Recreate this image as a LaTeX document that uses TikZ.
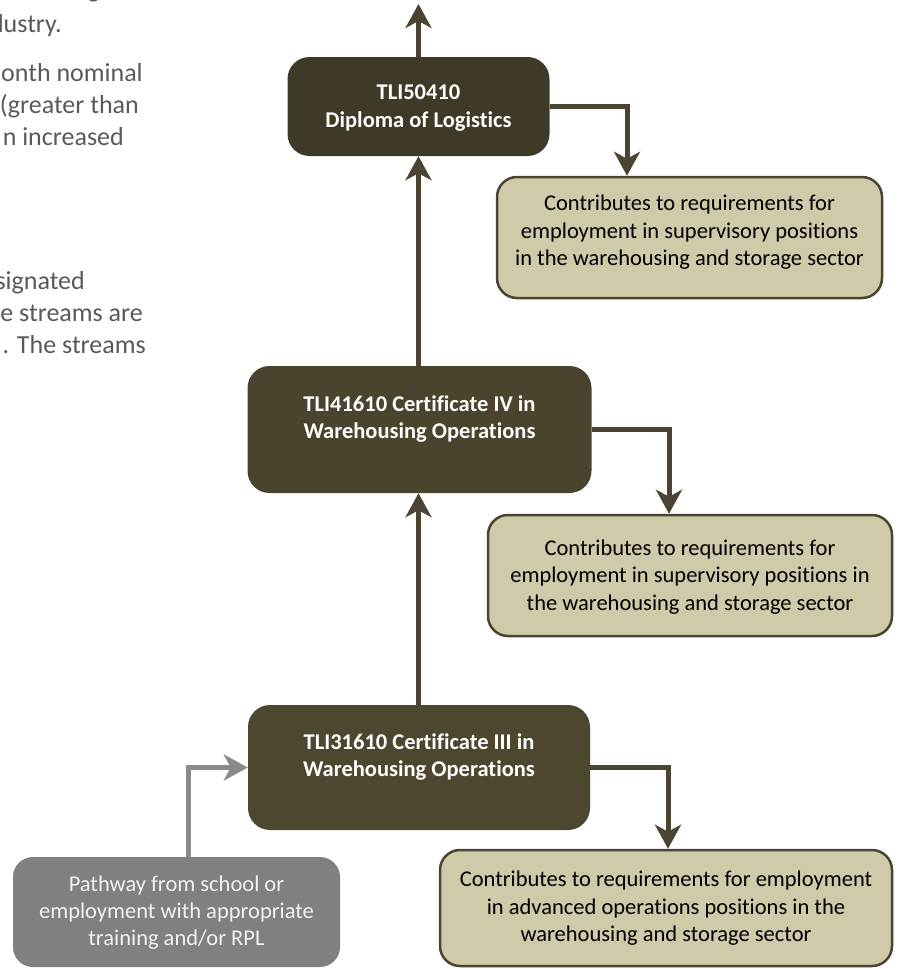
\documentclass[tikz,border=0pt]{standalone}
\usepackage{fontspec}
\setmainfont{Carlito}[Ligatures=NoCommon]
\usetikzlibrary{arrows.meta}
\definecolor{darkA}{HTML}{3F3A28}
\definecolor{darkB}{HTML}{4A442F}
\definecolor{darkC}{HTML}{4D4730}
\definecolor{lightbox}{HTML}{CFCAA9}
\definecolor{arrowc}{HTML}{4A4430}
\definecolor{greybox}{HTML}{808080}
\definecolor{greyarrow}{HTML}{8A8A8A}
\definecolor{sidetext}{HTML}{595959}
\tikzset{
  darkbox/.style={rounded corners=22pt, inner sep=0pt},
  lightnode/.style={draw=arrowc, fill=lightbox, line width=2.5pt, rounded corners=20pt, inner sep=0pt},
  greynode/.style={fill=greybox, rounded corners=20pt, inner sep=0pt},
  boldtext/.style={text=white, font=\fontsize{22.5}{27.5}\selectfont\bfseries, align=center, inner sep=0pt},
  lighttext/.style={text=black, font=\fontsize{22.5}{27.5}\selectfont, align=center, inner sep=0pt},
  greytext/.style={text=white!95!black, font=\fontsize{22.5}{27}\selectfont, align=center, inner sep=0pt},
  sidenote/.style={text=sidetext, font=\fontsize{26}{32}\selectfont, anchor=base east, inner sep=0pt},
  arr/.style={draw=arrowc, line width=5pt, -{Stealth[length=24pt, width=26pt, inset=7pt]}},
  garr/.style={draw=greyarrow, line width=5pt, -{Stealth[length=24pt, width=26pt, inset=7pt]}}
}
\begin{document}
\begin{tikzpicture}[x=1pt,y=-1pt]
\useasboundingbox (0,0) rectangle (902,969);
\clip (0,0) rectangle (902,969);

% side text fragments (cut off at the picture's edges, as in the reference)
\node[sidenote] (s0) at (100,-2) {g};
\node[sidenote] (s1) at (62,32) {dustry.};
\node[sidenote] (s2) at (143,81) {onth nominal};
\node[sidenote] (s3) at (139,113) {(greater than};
\node[sidenote] (s4) at (124,145) {n increased};
\node[sidenote] (s5) at (85,289) {signated};
\node[sidenote] (s6) at (143,321) {e streams are};
\node[sidenote] (s7) at (146,353) {. The streams};

% dark boxes
\node[darkbox, fill=darkA, minimum width=262pt, minimum height=99pt] (b1) at (418.5,106.5) {};
\node[darkbox, fill=darkB, minimum width=344pt, minimum height=127pt] (b2) at (419.5,429.5) {};
\node[darkbox, fill=darkC, minimum width=342pt, minimum height=125pt] (b3) at (419,767.5) {};

\node[boldtext] (t1) at (418.5,108) {TLI50410\\Diploma of Logistics};
\node[boldtext] (t2) at (419.5,419) {TLI41610 Certificate IV in\\Warehousing Operations};
\node[boldtext] (t3) at (419,757) {TLI31610 Certificate III in\\Warehousing Operations};

% light boxes
\node[lightnode, minimum width=385pt, minimum height=121pt] (a1) at (689.5,237.5) {};
\node[lightnode, minimum width=404pt, minimum height=121pt] (a2) at (690,575.5) {};
\node[lightnode, minimum width=452pt, minimum height=116pt] (a3) at (666,908) {};

\node[lighttext] (u1) at (689.5,232.5) {Contributes to requirements for\\employment in supervisory positions\\in the warehousing and storage sector};
\node[lighttext] (u2) at (690,577) {Contributes to requirements for\\employment in supervisory positions in\\the warehousing and storage sector};
\node[lighttext] (u3) at (666,908.5) {Contributes to requirements for employment\\in advanced operations positions in the\\warehousing and storage sector};

% grey box
\node[greynode, minimum width=327pt, minimum height=110pt] (g) at (176.5,912) {};
\node[greytext] (gt) at (176.5,913) {Pathway from school or\\employment with appropriate\\training and/or RPL};

% connectors
\coordinate (topend) at (418.5,4);
\draw[arr] (b1.north) -- (topend);
\draw[arr] (b2.north -| b1.south) -- (b1.south);
\draw[arr] (b3.north -| b1.south) -- (b2.south -| b1.south);
\draw[arr] (b1.east) -| ([xshift=-62.5pt]a1.north);
\draw[arr] (b2.east) -| ([xshift=-21pt]a2.north);
\draw[arr] (b3.east) -| ([xshift=2pt]a3.north);
\draw[garr] ([xshift=11.5pt]g.north) |- (b3.west);
\end{tikzpicture}
\end{document}
